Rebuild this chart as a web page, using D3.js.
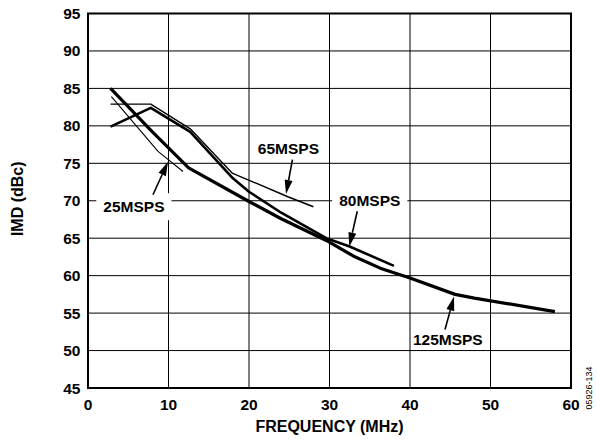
<!DOCTYPE html>
<html>
<head>
<meta charset="utf-8">
<script src="https://d3js.org/d3.v7.min.js"></script>
<style>
  body { margin: 0; background: #fff; }
  text { font-family: Arial, "Liberation Sans", sans-serif; }
  .tick-label { font-size: 15.5px; font-weight: bold; }
  .axis-title { font-size: 16px; font-weight: bold; }
  .note { font-size: 15.5px; font-weight: bold; }
</style>
</head>
<body>
<svg width="597" height="444"></svg>
<script>
// ***********************************
// Data (frequency in MHz, IMD in dBc)

var freq125 = [2.8, 8, 12.5, 20, 24, 29.6, 33, 36.3, 40, 45.6, 48, 58];
var imd125  = [85, 79.2, 74.4, 69.9, 67.6, 64.7, 62.6, 61.0, 59.7, 57.5, 57.0, 55.2];

var freq80 = [2.8, 7.8, 12.7, 18, 20, 24, 29.6, 32.5, 38];
var imd80  = [79.9, 82.4, 79.2, 73.0, 71.2, 68.4, 65.0, 63.9, 61.3];

var freq65 = [2.8, 7.8, 12.7, 17.9, 24.9, 28];
var imd65  = [82.9, 82.9, 79.6, 73.7, 70.5, 69.2];

var freq25 = [2.9, 8.7, 11.8];
var imd25  = [83.9, 76.6, 73.9];

var xTicks = [0, 10, 20, 30, 40, 50, 60];
var yTicks = [45, 50, 55, 60, 65, 70, 75, 80, 85, 90, 95];

// labels: text, label centre (MHz, dBc), arrow tail and tip (MHz, dBc)
var noteText  = ["25MSPS", "65MSPS", "80MSPS", "125MSPS"];
var noteAt    = [[5.7, 69.2], [24.9, 77.0], [35.0, 70.1], [44.7, 51.5]];
var arrowFrom = [[8.07, 70.8], [25.4, 75.5], [33.45, 68.6], [44.35, 52.8]];
var arrowTo   = [[9.94, 75.2], [24.6, 70.9], [32.46, 63.9], [45.47, 57.2]];
var noteBox   = [true, false, true, false];

// ***********************************
// Scales

var svg = d3.select("svg");
var plotLeft = 88, plotRight = 571, plotTop = 13.5, plotBottom = 388;

var x = d3.scaleLinear().domain([0, 60]).range([plotLeft, plotRight]);
var y = d3.scaleLinear().domain([45, 95]).range([plotBottom, plotTop]);

// grid
var grid = svg.append("g");
grid.selectAll(".vgrid")
  .data(xTicks.slice(1, -1))
  .enter().append("line")
  .attr("x1", function(d) { return x(d); })
  .attr("x2", function(d) { return x(d); })
  .attr("y1", plotTop).attr("y2", plotBottom)
  .attr("stroke", "#000").attr("stroke-width", 1);
grid.selectAll(".hgrid")
  .data(yTicks.slice(1, -1))
  .enter().append("line")
  .attr("x1", plotLeft).attr("x2", plotRight)
  .attr("y1", function(d) { return y(d); })
  .attr("y2", function(d) { return y(d); })
  .attr("stroke", "#000").attr("stroke-width", 1);

// frame
svg.append("rect")
  .attr("x", plotLeft).attr("y", plotTop)
  .attr("width", plotRight - plotLeft).attr("height", plotBottom - plotTop)
  .attr("fill", "none").attr("stroke", "#000").attr("stroke-width", 2);

// tick labels
svg.selectAll(".xlab")
  .data(xTicks)
  .enter().append("text")
  .attr("class", "tick-label")
  .attr("x", function(d) { return x(d); })
  .attr("y", 409.5)
  .attr("text-anchor", "middle")
  .text(function(d) { return d; });

svg.selectAll(".ylab")
  .data(yTicks)
  .enter().append("text")
  .attr("class", "tick-label")
  .attr("x", 80.5)
  .attr("y", function(d) { return y(d) + 5.5; })
  .attr("text-anchor", "end")
  .text(function(d) { return d; });

// axis titles
svg.append("text")
  .attr("class", "axis-title")
  .attr("x", (plotLeft + plotRight) / 2)
  .attr("y", 431.5)
  .attr("text-anchor", "middle")
  .text("FREQUENCY (MHz)");

svg.append("text")
  .attr("class", "axis-title")
  .attr("transform", "translate(22.5," + ((plotTop + plotBottom) / 2 - 2) + ") rotate(-90)")
  .attr("text-anchor", "middle")
  .text("IMD (dBc)");

svg.append("text")
  .attr("transform", "translate(592,388) rotate(-90)")
  .attr("text-anchor", "middle")
  .style("font-size", "9px")
  .text("05926-134");

// ***********************************
// curves

var line = d3.line()
  .x(function(d) { return x(d[0]); })
  .y(function(d) { return y(d[1]); });

function drawCurve(fs, vs, width) {
  svg.append("path")
    .datum(d3.zip(fs, vs))
    .attr("d", line)
    .attr("fill", "none")
    .attr("stroke", "#000")
    .attr("stroke-width", width)
    .attr("stroke-linejoin", "round");
}

drawCurve(freq25, imd25, 1.1);
drawCurve(freq65, imd65, 1.4);
drawCurve(freq80, imd80, 2.6);
drawCurve(freq125, imd125, 3.2);

// ***********************************
// labels and arrows

noteText.forEach(function(t, i) {
  var g = svg.append("g");
  var label = g.append("text")
    .attr("class", "note")
    .attr("x", x(noteAt[i][0]))
    .attr("y", y(noteAt[i][1]) + 5.5)
    .attr("text-anchor", "middle")
    .text(t);
  if (noteBox[i]) {
    var bb = label.node().getBBox();
    g.insert("rect", "text")
      .attr("x", bb.x - 7).attr("y", bb.y - 5)
      .attr("width", bb.width + 14).attr("height", bb.height + 10)
      .attr("fill", "#fff");
  }

  var x0 = x(arrowFrom[i][0]), y0 = y(arrowFrom[i][1]);
  var x1 = x(arrowTo[i][0]), y1 = y(arrowTo[i][1]);
  var ang = Math.atan2(y1 - y0, x1 - x0);
  var len = 14, half = 4;
  var bx = x1 - len * Math.cos(ang), by = y1 - len * Math.sin(ang);

  svg.append("line")
    .attr("x1", x0).attr("y1", y0)
    .attr("x2", bx).attr("y2", by)
    .attr("stroke", "#000").attr("stroke-width", 1.6);

  svg.append("path")
    .attr("d", "M" + x1 + "," + y1 +
      "L" + (bx + half * Math.sin(ang)) + "," + (by - half * Math.cos(ang)) +
      "L" + (bx - half * Math.sin(ang)) + "," + (by + half * Math.cos(ang)) + "Z")
    .attr("fill", "#000");
});
</script>
</body>
</html>
